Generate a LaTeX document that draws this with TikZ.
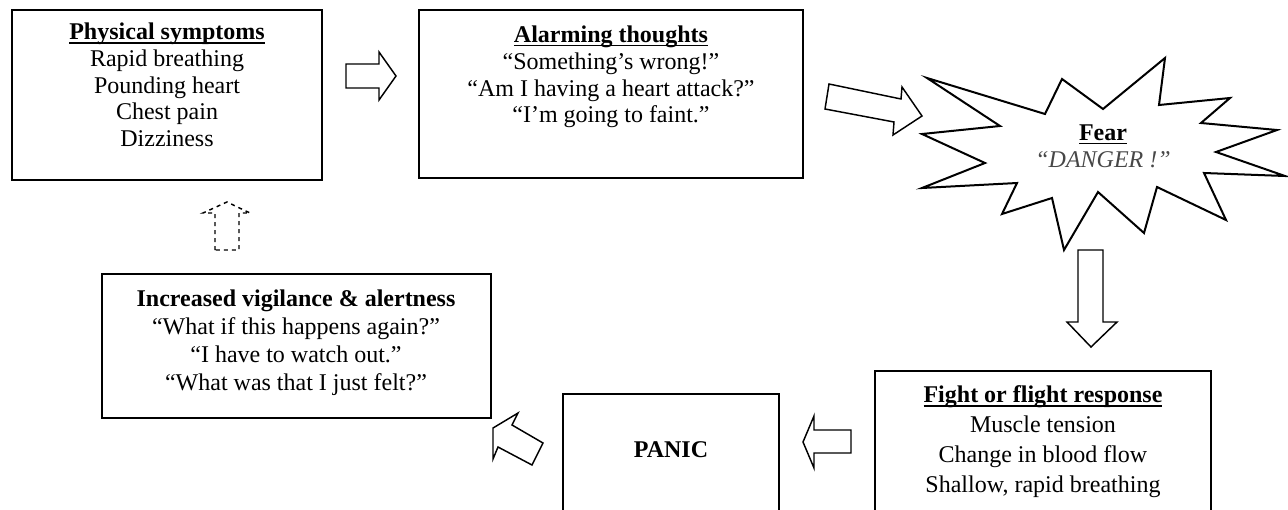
\documentclass[tikz,border=0pt]{standalone}
\usepackage{fontspec}
\setmainfont{Liberation Serif}
\usetikzlibrary{calc}
\definecolor{dangergrey}{HTML}{474747}
\newcommand{\panel}[4]{\draw[panel] ( #1 , #2 ) rectangle ( #3 , #4 );}
\newcommand{\headline}[1]{\leavevmode\setbox0\hbox{\textbf{#1}}\rlap{\rule[-2.8pt]{\wd0}{0.9pt}}\box0}
\tikzset{
  panel/.style={line width=1.5pt},
  blockarrow/.style={line width=1.1pt, line join=miter, fill=white},
  paneltext/.style={align=center, inner sep=0pt, font=\fontsize{18}{20}\selectfont},
}

\begin{document}
\begin{tikzpicture}[x=0.75pt, y=-0.75pt]
        \useasboundingbox (0,0) rectangle (1288,510);
        \clip (0,0) rectangle (1288,510);

        % boxes
        \panel{12}{10}{322}{180}
        \panel{419}{10}{803}{178}
        \panel{102}{274}{491}{418}
        \panel{563}{394}{779}{530}
        \panel{875}{371}{1211}{530}

        % starburst
        \draw[panel] (927,78) -- (1045,114) -- (1062,79) -- (1103,109) -- (1165,58)
          -- (1159,105) -- (1230,98) -- (1201,123) -- (1277,130) -- (1216,152)
          -- (1285,176) -- (1204,173) -- (1226,220) -- (1157,187) -- (1144,233)
          -- (1098,192) -- (1064,250) -- (1052,198) -- (1002,214) -- (1017,183)
          -- (922,188) -- (985,163) -- (922,134) -- (1000,126) -- cycle;

        % texts
        \node[paneltext] (physical) at (167,85) {\headline{Physical symptoms}\\
          Rapid breathing\\ Pounding heart\\ Chest pain\\ Dizziness};
        \node[paneltext] (alarming) at (611,77) {\headline{Alarming thoughts}\\
          “Something’s wrong!”\\ “Am I having a heart attack?”\\ “I’m going to faint.”};
        \node[paneltext] (fear) at (1103,146) {\headline{Fear}\\
          \textcolor{dangergrey}{\textit{“DANGER !”}}};
        \node[paneltext, font=\fontsize{18}{22.5}\selectfont] (fight) at (1043,442)
          {\headline{Fight or flight response}\\
          Muscle tension\\ Change in blood flow\\ Shallow, rapid breathing};
        \node[paneltext] (panic) at (671,450) {\textbf{PANIC}};
        \node[paneltext, font=\fontsize{18}{21}\selectfont] (vigilance) at (296,343)
          {\textbf{Increased vigilance \& alertness}\\
          “What if this happens again?”\\ “I have to watch out.”\\ “What was that I just felt?”};

        % arrows
        \draw[blockarrow] (346,64) -- (379,64) -- (379,52) -- (396,76) -- (379,100)
          -- (379,88) -- (346,88) -- cycle;
        \draw[blockarrow] (829,84) -- (901,99) -- (902,87) -- (922,116) -- (893,135)
          -- (894,122) -- (825,109) -- cycle;
        \draw[blockarrow] (1078,250) -- (1103,250) -- (1103,322) -- (1117,322)
          -- (1091,347) -- (1067,322) -- (1078,322) -- cycle;
        \draw[blockarrow] (851,430) -- (814,430) -- (814,416) -- (803,442) -- (814,468)
          -- (814,453) -- (851,453) -- cycle;
        \draw[blockarrow] (518,413) -- (493,428) -- (493,459) -- (498,447) -- (532,465)
          -- (543,443) -- (512,425) -- cycle;
        \draw[blockarrow, dashed] (215,250) -- (215,213) -- (203,213) -- (227,202)
          -- (250,213) -- (239,213) -- (239,250) -- cycle;

    \end{tikzpicture}
\end{document}
